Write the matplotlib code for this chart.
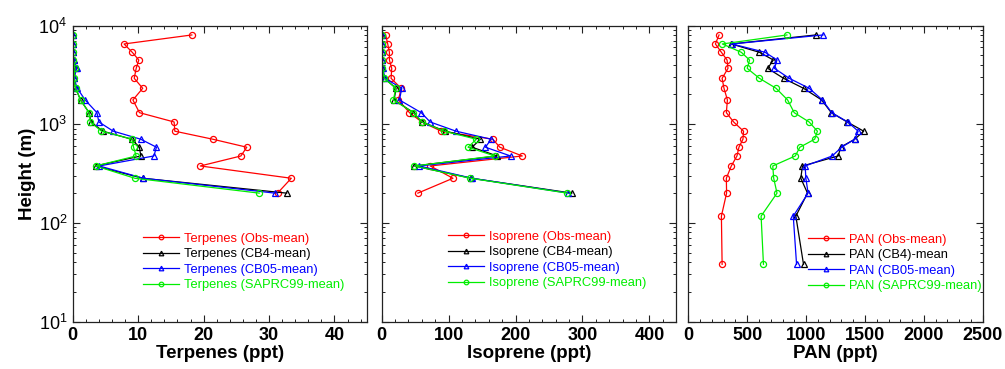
import numpy as np
import matplotlib
matplotlib.use('Agg')
import matplotlib.pyplot as plt
from matplotlib.ticker import MultipleLocator, LogLocator, NullFormatter

plt.rcParams['font.family'] = ['Liberation Sans', 'DejaVu Sans']
plt.rcParams['mathtext.fontset'] = 'custom'
plt.rcParams['mathtext.rm'] = 'Liberation Sans:bold'
plt.rcParams['mathtext.it'] = 'Liberation Sans:bold'
plt.rcParams['mathtext.bf'] = 'Liberation Sans:bold'

# vertical levels (m)
heights = [8020, 6500, 5350, 4470, 3680, 2915, 2310, 1760, 1308, 1052,
           849, 704, 584, 476, 377, 283, 200]
pan_heights = heights + [117, 38]

# Terpenes (ppt)
terp_obs = [18.2, 7.85, 9.1, 10.1, 9.7, 9.4, 10.7, 9.2, 10.2, 15.5,
            15.6, 21.4, 26.6, 25.7, 19.5, 33.4, 31.3]
terp_cb4 = [0.0, 0.0, 0.0, 0.2, 0.45, 0.2, 0.45, 1.2, 2.5, 2.8,
            4.6, 9.0, 10.2, 10.4, 3.5, 10.7, 32.7]
terp_cb05 = [0.0, 0.0, 0.0, 0.2, 0.6, 0.2, 0.7, 1.9, 3.7, 4.0,
             6.2, 10.4, 12.8, 12.4, 4.05, 10.8, 30.9]
terp_saprc = [0.0, 0.0, 0.0, 0.1, 0.35, 0.2, 0.45, 1.2, 2.5, 2.7,
              4.4, 9.1, 9.3, 9.7, 3.5, 9.5, 28.5]

# Isoprene (ppt)
iso_obs = [6, 9, 11.5, 11.5, 15, 14, 29, 25, 41.5, 60,
           89, 166, 176.5, 210, 72.5, 106.5, 54]
iso_cb4 = [0, 0, 1, 1, 1, 4, 21.5, 18.5, 47.5, 60,
           95, 147.5, 135, 172.5, 49, 134, 284]
iso_cb05 = [0, 0, 1, 1, 1.5, 5, 30, 26.5, 59, 72.5,
            111, 163.5, 155, 192.5, 56, 135, 279]
iso_saprc = [0, 0, 1, 1, 1, 4, 21, 17.5, 47.5, 60,
             93.5, 141.5, 129, 169, 49, 132.5, 277.5]

# PAN (ppt)
pan_obs = [261, 230, 281, 329, 337, 287, 303, 332, 323, 385,
           469, 464, 430, 413, 365, 323, 325, 281, 287]
pan_cb4 = [1082, 365, 604, 722, 674, 809, 978, 1132, 1214, 1349,
           1489, 1413, 1293, 1273, 969, 955, 1012, 913, 978]
pan_cb05 = [1144, 371, 652, 753, 731, 857, 1026, 1138, 1217, 1354,
            1442, 1413, 1301, 1222, 992, 998, 1017, 891, 919]
pan_saprc = [837, 289, 450, 520, 500, 604, 745, 843, 899, 1026,
             1096, 1073, 947, 908, 717, 725, 753, 618, 638]

panels = [
    ('Terpenes (ppt)', heights,
     [terp_obs, terp_cb4, terp_cb05, terp_saprc],
     ['Terpenes (Obs-mean)', 'Terpenes (CB4-mean)', 'Terpenes (CB05-mean)',
      'Terpenes (SAPRC99-mean)'], (0, 45), 10, 2, (0.239, 0.300)),
    ('Isoprene (ppt)', heights,
     [iso_obs, iso_cb4, iso_cb05, iso_saprc],
     ['Isoprene (Obs-mean)', 'Isoprene (CB4-mean)', 'Isoprene (CB05-mean)',
      'Isoprene (SAPRC99-mean)'], (0, 440), 100, 20, (0.225, 0.307)),
    ('PAN (ppt)', pan_heights,
     [pan_obs, pan_cb4, pan_cb05, pan_saprc],
     ['PAN (Obs-mean)', 'PAN (CB4)-mean', 'PAN (CB05-mean)',
      'PAN (SAPRC99-mean)'], (0, 2500), 500, 100, (0.406, 0.297)),
]

colors = ['#ff0000', '#000000', '#0000ff', '#00ee00']
markers = ['o', '^', '^', 'o']

W, H = 1005, 369
fig = plt.figure(figsize=(W / 100, H / 100), dpi=100)
lefts = [72.7, 381.7, 688.3]

for i, (xlabel, hts, series, labels, xlim, major, minor, legpos) in enumerate(panels):
    ax = fig.add_axes([lefts[i] / W, (H - 321.5) / H, 294.5 / W, 296 / H])
    for vals, c, m, lab in zip(series, colors, markers, labels):
        ax.plot(vals, hts, color=c, marker=m, ms=4.4, mfc='none', mew=0.9,
                lw=0.9, label=lab)
    ax.set_yscale('log')
    ax.set_ylim(10, 1e4)
    ax.set_xlim(*xlim)
    ax.xaxis.set_major_locator(MultipleLocator(major))
    ax.xaxis.set_minor_locator(MultipleLocator(minor))
    ax.yaxis.set_major_locator(LogLocator(base=10, numticks=10))
    ax.yaxis.set_minor_locator(LogLocator(base=10, subs=np.arange(2, 10), numticks=10))
    ax.yaxis.set_minor_formatter(NullFormatter())
    ax.tick_params(which='both', direction='in', top=True, right=True,
                   labelsize=13, pad=4, color='#222222')
    ax.tick_params(which='major', length=5, width=0.8)
    ax.tick_params(which='minor', length=2.5, width=0.7)
    for lab in ax.get_xticklabels():
        lab.set_fontweight('bold')
    for s in ax.spines.values():
        s.set_linewidth(0.9)
        s.set_color('#222222')
    ax.set_xlabel(xlabel, fontsize=13.5, fontweight='bold', labelpad=1)
    if i == 0:
        ax.set_ylabel('Height (m)', fontsize=13.5, fontweight='bold', labelpad=2)
    else:
        ax.tick_params(axis='y', labelleft=False)
    leg = ax.legend(loc='upper left', bbox_to_anchor=legpos, frameon=False,
                    fontsize=9.3, handlelength=2.8, handletextpad=0.35,
                    labelspacing=0.27, borderpad=0, borderaxespad=0,
                    markerscale=0.75)
    for txt, c in zip(leg.get_texts(), colors):
        txt.set_color(c)

fig.savefig('out.png', dpi=100)
